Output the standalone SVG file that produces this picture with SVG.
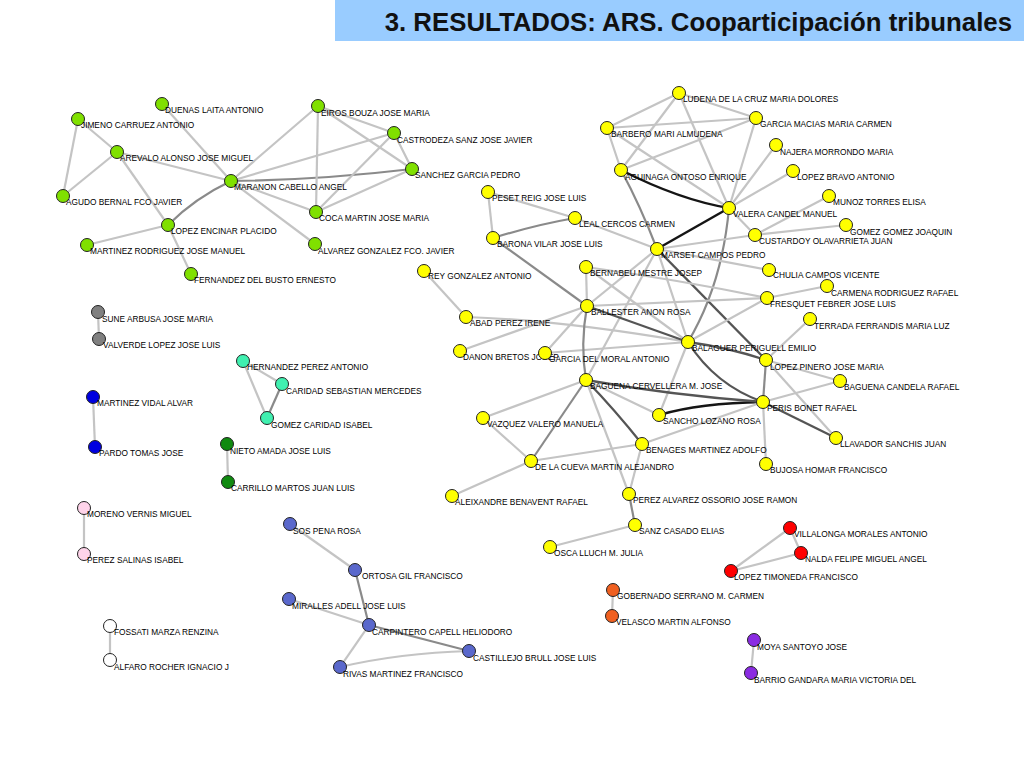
<svg xmlns="http://www.w3.org/2000/svg" width="1024" height="768" viewBox="0 0 1024 768">
<style>
.e{fill:none;stroke:#c4c4c4;stroke-width:2.2}
.m{fill:none;stroke:#8a8a8a;stroke-width:2.2}
.d{fill:none;stroke:#555;stroke-width:2.3}
.k{fill:none;stroke:#151515;stroke-width:2.5}
circle{stroke:#222;stroke-width:1}
.g{fill:#80e000}.y{fill:#ffff00}.gr{fill:#808080}.t{fill:#40f0b0}.b{fill:#0000e0}
.dg{fill:#108a10}.p{fill:#ffd4ea}.w{fill:#ffffff}.s{fill:#5a68cc}.o{fill:#f06020}.r{fill:#ff0000}.v{fill:#8a2be2}
text{font-family:"Liberation Sans",Arial,sans-serif;font-size:8.3px;fill:#000}
.title{font-size:25.8px;font-weight:bold;fill:#111}
</style>
<rect width="1024" height="768" fill="#ffffff"/>
<g id="header">
<rect x="335" y="0" width="689" height="41" fill="#99ccff"/>
<text class="title" x="1012" y="31" text-anchor="end">3. RESULTADOS: ARS. Cooparticipación tribunales</text>
</g>
<g id="edges">
<path class="e" d="M162 104L231 181"/>
<path class="e" d="M78 119L117 152"/>
<path class="e" d="M78 119L63 196"/>
<path class="e" d="M117 152L63 196"/>
<path class="e" d="M117 152L231 181"/>
<path class="e" d="M117 152L168 225"/>
<path class="m" d="M231 181Q195 198 168 225"/>
<path class="e" d="M168 225L87 245"/>
<path class="e" d="M168 225L191 274"/>
<path class="e" d="M231 181L318 106"/>
<path class="m" d="M231 181Q320 180 412 169"/>
<path class="e" d="M231 181L394 133"/>
<path class="e" d="M231 181L316 212"/>
<path class="e" d="M231 181L315 244"/>
<path class="e" d="M318 106L394 133"/>
<path class="e" d="M318 106L412 169"/>
<path class="e" d="M318 106L316 212"/>
<path class="e" d="M394 133L412 169"/>
<path class="e" d="M394 133L316 212"/>
<path class="e" d="M412 169L316 212"/>

<path class="e" d="M679 93L607 128"/>
<path class="e" d="M679 93L756 118"/>
<path class="e" d="M679 93L621 170"/>
<path class="e" d="M679 93L729 208"/>
<path class="e" d="M756 118L607 128"/>
<path class="e" d="M756 118L621 170"/>
<path class="e" d="M756 118L729 208"/>
<path class="e" d="M607 128L621 170"/>
<path class="e" d="M607 128L729 208"/>
<path class="k" d="M621 170Q680 200 729 208"/>
<path class="m" d="M621 170Q640 205 657 249"/>
<path class="k" d="M729 208L657 249"/>
<path class="e" d="M729 208L776 145"/>
<path class="e" d="M729 208L793 171"/>
<path class="e" d="M729 208L755 235"/>
<path class="m" d="M729 208Q722 285 688 342"/>
<path class="e" d="M755 235L829 196"/>
<path class="e" d="M755 235L846 225"/>
<path class="e" d="M755 235L657 249"/>
<path class="e" d="M657 249L769 270"/>
<path class="e" d="M657 249L575 218"/>
<path class="e" d="M657 249L587 306"/>
<path class="e" d="M657 249L586 380"/>
<path class="e" d="M657 249L688 342"/>
<path class="d" d="M657 249L766 360"/>
<path class="e" d="M488 192L493 238"/>
<path class="e" d="M488 192L575 218"/>
<path class="m" d="M493 238Q535 225 575 218"/>
<path class="m" d="M493 238L587 306"/>
<path class="e" d="M424 271L466 317"/>
<path class="e" d="M466 317Q560 320 688 342"/>
<path class="e" d="M460 351L587 306"/>
<path class="e" d="M545 353L587 306"/>
<path class="e" d="M545 353L688 342"/>
<path class="e" d="M586 267L587 306"/>
<path class="e" d="M586 267Q680 280 767 298"/>
<path class="e" d="M586 267L688 342"/>
<path class="e" d="M587 306L767 298"/>
<path class="d" d="M587 306L688 342"/>
<path class="m" d="M587 306Q580 345 586 380"/>
<path class="e" d="M688 342L767 298"/>
<path class="d" d="M688 342Q730 348 766 360"/>
<path class="d" d="M688 342Q715 385 763 402"/>
<path class="e" d="M688 342L659 415"/>
<path class="e" d="M767 298L827 286"/>
<path class="e" d="M766 360L810 319"/>
<path class="e" d="M766 360L840 381"/>
<path class="m" d="M766 360L763 402"/>
<path class="e" d="M766 360L836 438"/>
<path class="e" d="M763 402L840 381"/>
<path class="d" d="M763 402L836 438"/>
<path class="e" d="M763 402L766 464"/>
<path class="k" d="M763 402Q700 403 659 415"/>
<path class="d" d="M763 402Q670 395 586 380"/>
<path class="e" d="M763 402L642 444"/>
<path class="e" d="M586 380L483 418"/>
<path class="m" d="M586 380L531 461"/>
<path class="d" d="M586 380Q615 410 642 444"/>
<path class="e" d="M586 380L659 415"/>
<path class="e" d="M586 380L629 494"/>
<path class="e" d="M531 461L483 418"/>
<path class="e" d="M531 461L642 444"/>
<path class="e" d="M531 461L452 496"/>
<path class="e" d="M642 444L629 494"/>
<path class="m" d="M629 494L635 525"/>
<path class="e" d="M635 525L550 547"/>

<path class="e" d="M98 312L99 339"/>
<path class="e" d="M243 361L282 384"/>
<path class="e" d="M243 361L267 418"/>
<path class="m" d="M282 384L267 418"/>
<path class="e" d="M93 397L95 447"/>
<path class="e" d="M227 444L228 482"/>
<path class="e" d="M84 508L84 554"/>
<path class="e" d="M110 626L110 660"/>
<path class="e" d="M290 524L355 570"/>
<path class="m" d="M355 570L369 625"/>
<path class="e" d="M289 599L369 625"/>
<path class="m" d="M369 625L469 651"/>
<path class="e" d="M369 625L340 667"/>
<path class="e" d="M340 667Q400 653 469 651"/>
<path class="e" d="M613 590L612 616"/>
<path class="e" d="M790 528L801 553"/>
<path class="e" d="M790 528L731 571"/>
<path class="e" d="M801 553L731 571"/>
<path class="e" d="M754 640L751 673"/>
</g>

<g id="n-duenas"><circle class="g" cx="162" cy="104" r="6.5"/><text x="165" y="113">DUENAS LAITA ANTONIO</text></g>
<g id="n-jimeno"><circle class="g" cx="78" cy="119" r="6.5"/><text x="81" y="128">JIMENO CARRUEZ ANTONIO</text></g>
<g id="n-arevalo"><circle class="g" cx="117" cy="152" r="6.5"/><text x="120" y="161">AREVALO ALONSO JOSE MIGUEL</text></g>
<g id="n-maranon"><circle class="g" cx="231" cy="181" r="6.5"/><text x="234" y="190">MARANON CABELLO ANGEL</text></g>
<g id="n-agudo"><circle class="g" cx="63" cy="196" r="6.5"/><text x="66" y="205">AGUDO BERNAL FCO  JAVIER</text></g>
<g id="n-lopez-encinar"><circle class="g" cx="168" cy="225" r="6.5"/><text x="171" y="234">LOPEZ ENCINAR PLACIDO</text></g>
<g id="n-martinez-rodriguez"><circle class="g" cx="87" cy="245" r="6.5"/><text x="90" y="254">MARTINEZ RODRIGUEZ JOSE MANUEL</text></g>
<g id="n-fernandez"><circle class="g" cx="191" cy="274" r="6.5"/><text x="194" y="283">FERNANDEZ DEL BUSTO ERNESTO</text></g>
<g id="n-eiros"><circle class="g" cx="318" cy="106" r="6.5"/><text x="321" y="116">EIROS BOUZA JOSE MARIA</text></g>
<g id="n-castrodeza"><circle class="g" cx="394" cy="133" r="6.5"/><text x="397" y="143">CASTRODEZA SANZ JOSE JAVIER</text></g>
<g id="n-sanchez"><circle class="g" cx="412" cy="169" r="6.5"/><text x="415" y="178">SANCHEZ GARCIA PEDRO</text></g>
<g id="n-coca"><circle class="g" cx="316" cy="212" r="6.5"/><text x="319" y="221">COCA MARTIN JOSE MARIA</text></g>
<g id="n-alvarez"><circle class="g" cx="315" cy="244" r="6.5"/><text x="318" y="254">ALVAREZ GONZALEZ FCO. JAVIER</text></g>

<g id="n-ludena"><circle class="y" cx="679" cy="93" r="6.5"/><text x="683" y="102">LUDENA DE LA CRUZ MARIA DOLORES</text></g>
<g id="n-garcia-macias"><circle class="y" cx="756" cy="118" r="6.5"/><text x="760" y="127">GARCIA MACIAS MARIA CARMEN</text></g>
<g id="n-barbero"><circle class="y" cx="607" cy="128" r="6.5"/><text x="611" y="137">BARBERO MARI ALMUDENA</text></g>
<g id="n-najera"><circle class="y" cx="776" cy="145" r="6.5"/><text x="780" y="155">NAJERA MORRONDO MARIA</text></g>
<g id="n-aguinaga"><circle class="y" cx="621" cy="170" r="6.5"/><text x="625" y="180">AGUINAGA ONTOSO ENRIQUE</text></g>
<g id="n-lopez-bravo"><circle class="y" cx="793" cy="171" r="6.5"/><text x="797" y="180">LOPEZ BRAVO ANTONIO</text></g>
<g id="n-munoz"><circle class="y" cx="829" cy="196" r="6.5"/><text x="833" y="205">MUNOZ TORRES ELISA</text></g>
<g id="n-valera"><circle class="y" cx="729" cy="208" r="6.5"/><text x="733" y="217">VALERA CANDEL MANUEL</text></g>
<g id="n-gomez-gomez"><circle class="y" cx="846" cy="225" r="6.5"/><text x="850" y="235">GOMEZ GOMEZ JOAQUIN</text></g>
<g id="n-custardoy"><circle class="y" cx="755" cy="235" r="6.5"/><text x="759" y="244">CUSTARDOY OLAVARRIETA JUAN</text></g>
<g id="n-marset"><circle class="y" cx="657" cy="249" r="6.5"/><text x="661" y="258">MARSET CAMPOS PEDRO</text></g>
<g id="n-chulia"><circle class="y" cx="769" cy="270" r="6.5"/><text x="773" y="278">CHULIA CAMPOS VICENTE</text></g>
<g id="n-bernabeu"><circle class="y" cx="586" cy="267" r="6.5"/><text x="590" y="276">BERNABEU MESTRE JOSEP</text></g>
<g id="n-peset"><circle class="y" cx="488" cy="192" r="6.5"/><text x="492" y="201">PESET REIG JOSE LUIS</text></g>
<g id="n-leal"><circle class="y" cx="575" cy="218" r="6.5"/><text x="579" y="227">LEAL CERCOS CARMEN</text></g>
<g id="n-barona"><circle class="y" cx="493" cy="238" r="6.5"/><text x="497" y="247">BARONA VILAR JOSE LUIS</text></g>
<g id="n-ballester"><circle class="y" cx="587" cy="306" r="6.5"/><text x="591" y="315">BALLESTER ANON ROSA</text></g>
<g id="n-rey"><circle class="y" cx="424" cy="271" r="6.5"/><text x="428" y="279">REY GONZALEZ ANTONIO</text></g>
<g id="n-abad"><circle class="y" cx="466" cy="317" r="6.5"/><text x="470" y="326">ABAD PEREZ IRENE</text></g>
<g id="n-danon"><circle class="y" cx="460" cy="351" r="6.5"/><text x="463" y="360">DANON BRETOS JOSEP</text></g>
<g id="n-garcia-moral"><circle class="y" cx="545" cy="353" r="6.5"/><text x="549" y="362">GARCIA DEL MORAL ANTONIO</text></g>
<g id="n-balaguer"><circle class="y" cx="688" cy="342" r="6.5"/><text x="692" y="351">BALAGUER PERIGUELL EMILIO</text></g>
<g id="n-baguena-cervellera"><circle class="y" cx="586" cy="380" r="6.5"/><text x="590" y="389">BAGUENA CERVELLERA M. JOSE</text></g>
<g id="n-vazquez"><circle class="y" cx="483" cy="418" r="6.5"/><text x="487" y="427">VAZQUEZ VALERO MANUELA</text></g>
<g id="n-sancho"><circle class="y" cx="659" cy="415" r="6.5"/><text x="663" y="424">SANCHO LOZANO ROSA</text></g>
<g id="n-benages"><circle class="y" cx="642" cy="444" r="6.5"/><text x="646" y="453">BENAGES MARTINEZ ADOLFO</text></g>
<g id="n-de-la-cueva"><circle class="y" cx="531" cy="461" r="6.5"/><text x="535" y="470">DE LA CUEVA MARTIN ALEJANDRO</text></g>
<g id="n-aleixandre"><circle class="y" cx="452" cy="496" r="6.5"/><text x="455" y="505">ALEIXANDRE BENAVENT RAFAEL</text></g>
<g id="n-perez-alvarez"><circle class="y" cx="629" cy="494" r="6.5"/><text x="633" y="503">PEREZ ALVAREZ OSSORIO JOSE RAMON</text></g>
<g id="n-sanz"><circle class="y" cx="635" cy="525" r="6.5"/><text x="639" y="534">SANZ CASADO ELIAS</text></g>
<g id="n-osca"><circle class="y" cx="550" cy="547" r="6.5"/><text x="554" y="556">OSCA LLUCH M. JULIA</text></g>
<g id="n-fresquet"><circle class="y" cx="767" cy="298" r="6.5"/><text x="770" y="307">FRESQUET FEBRER JOSE LUIS</text></g>
<g id="n-carmena"><circle class="y" cx="827" cy="286" r="6.5"/><text x="831" y="296">CARMENA RODRIGUEZ RAFAEL</text></g>
<g id="n-terrada"><circle class="y" cx="810" cy="319" r="6.5"/><text x="814" y="329">TERRADA FERRANDIS MARIA LUZ</text></g>
<g id="n-lopez-pinero"><circle class="y" cx="766" cy="360" r="6.5"/><text x="770" y="370">LOPEZ PINERO JOSE MARIA</text></g>
<g id="n-baguena-candela"><circle class="y" cx="840" cy="381" r="6.5"/><text x="844" y="390">BAGUENA CANDELA RAFAEL</text></g>
<g id="n-peris"><circle class="y" cx="763" cy="402" r="6.5"/><text x="767" y="411">PERIS BONET RAFAEL</text></g>
<g id="n-llavador"><circle class="y" cx="836" cy="438" r="6.5"/><text x="840" y="447">LLAVADOR SANCHIS JUAN</text></g>
<g id="n-bujosa"><circle class="y" cx="766" cy="464" r="6.5"/><text x="770" y="473">BUJOSA HOMAR FRANCISCO</text></g>

<g id="n-sune"><circle class="gr" cx="98" cy="312" r="6.5"/><text x="102" y="322">SUNE ARBUSA JOSE MARIA</text></g>
<g id="n-valverde"><circle class="gr" cx="99" cy="339" r="6.5"/><text x="103" y="348">VALVERDE LOPEZ JOSE LUIS</text></g>
<g id="n-hernandez"><circle class="t" cx="243" cy="361" r="6.5"/><text x="247" y="370">HERNANDEZ PEREZ ANTONIO</text></g>
<g id="n-caridad"><circle class="t" cx="282" cy="384" r="6.5"/><text x="286" y="394">CARIDAD SEBASTIAN MERCEDES</text></g>
<g id="n-gomez-caridad"><circle class="t" cx="267" cy="418" r="6.5"/><text x="271" y="428">GOMEZ CARIDAD ISABEL</text></g>
<g id="n-martinez-vidal"><circle class="b" cx="93" cy="397" r="6.5"/><text x="97" y="406">MARTINEZ VIDAL ALVAR</text></g>
<g id="n-pardo"><circle class="b" cx="95" cy="447" r="6.5"/><text x="99" y="456">PARDO TOMAS JOSE</text></g>
<g id="n-nieto"><circle class="dg" cx="227" cy="444" r="6.5"/><text x="230" y="454">NIETO AMADA JOSE LUIS</text></g>
<g id="n-carrillo"><circle class="dg" cx="228" cy="482" r="6.5"/><text x="231" y="491">CARRILLO MARTOS JUAN LUIS</text></g>
<g id="n-moreno"><circle class="p" cx="84" cy="508" r="6.5"/><text x="87" y="517">MORENO VERNIS MIGUEL</text></g>
<g id="n-perez-salinas"><circle class="p" cx="84" cy="554" r="6.5"/><text x="87" y="563">PEREZ SALINAS ISABEL</text></g>
<g id="n-fossati"><circle class="w" cx="110" cy="626" r="6.5"/><text x="114" y="635">FOSSATI MARZA RENZINA</text></g>
<g id="n-alfaro"><circle class="w" cx="110" cy="660" r="6.5"/><text x="114" y="670">ALFARO ROCHER IGNACIO J</text></g>
<g id="n-sos"><circle class="s" cx="290" cy="524" r="6.5"/><text x="293" y="534">SOS PENA ROSA</text></g>
<g id="n-ortosa"><circle class="s" cx="355" cy="570" r="6.5"/><text x="362" y="579">ORTOSA GIL FRANCISCO</text></g>
<g id="n-miralles"><circle class="s" cx="289" cy="599" r="6.5"/><text x="292" y="609">MIRALLES ADELL JOSE LUIS</text></g>
<g id="n-carpintero"><circle class="s" cx="369" cy="625" r="6.5"/><text x="372" y="635">CARPINTERO CAPELL HELIODORO</text></g>
<g id="n-castillejo"><circle class="s" cx="469" cy="651" r="6.5"/><text x="473" y="661">CASTILLEJO BRULL JOSE LUIS</text></g>
<g id="n-rivas"><circle class="s" cx="340" cy="667" r="6.5"/><text x="343" y="677">RIVAS MARTINEZ FRANCISCO</text></g>
<g id="n-gobernado"><circle class="o" cx="613" cy="590" r="6.5"/><text x="617" y="599">GOBERNADO SERRANO M. CARMEN</text></g>
<g id="n-velasco"><circle class="o" cx="612" cy="616" r="6.5"/><text x="616" y="625">VELASCO MARTIN ALFONSO</text></g>
<g id="n-villalonga"><circle class="r" cx="790" cy="528" r="6.5"/><text x="794" y="537">VILLALONGA MORALES ANTONIO</text></g>
<g id="n-nalda"><circle class="r" cx="801" cy="553" r="6.5"/><text x="805" y="562">NALDA FELIPE MIGUEL ANGEL</text></g>
<g id="n-lopez-timoneda"><circle class="r" cx="731" cy="571" r="6.5"/><text x="734" y="580">LOPEZ TIMONEDA FRANCISCO</text></g>
<g id="n-moya"><circle class="v" cx="754" cy="640" r="6.5"/><text x="757" y="650">MOYA SANTOYO JOSE</text></g>
<g id="n-barrio"><circle class="v" cx="751" cy="673" r="6.5"/><text x="754" y="683">BARRIO GANDARA MARIA VICTORIA DEL</text></g>
</svg>
